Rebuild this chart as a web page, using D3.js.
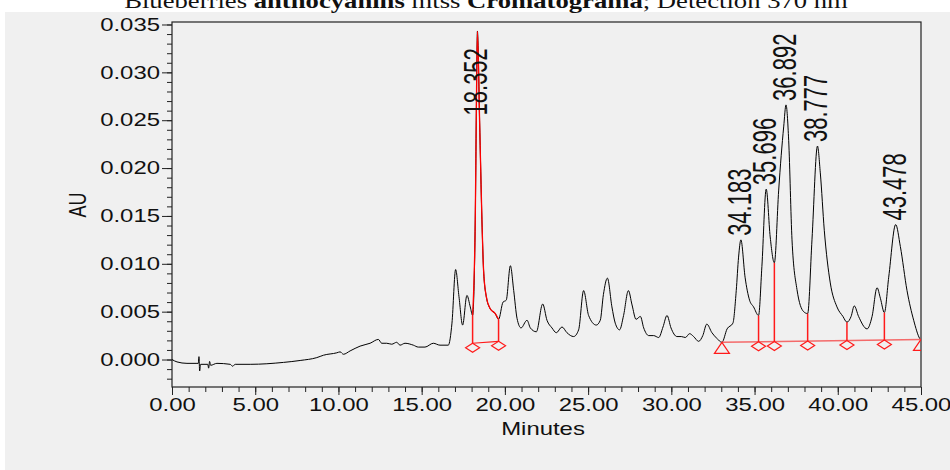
<!DOCTYPE html>
<html>
<head>
<meta charset="utf-8">
<script src="https://cdn.jsdelivr.net/npm/d3@7.9.0/dist/d3.min.js"></script>
<style>
  body { margin: 0; background: #fff; }
  svg { display: block; }
  text { font-family: "Liberation Sans", Arial, sans-serif; fill: #111; }
</style>
</head>
<body>
<svg id="chart" width="950" height="470"></svg>
<script>
// trace (minutes, AU)
const traceTime = [0.00, 0.30, 0.90, 1.50, 1.58, 1.62, 1.66, 1.72, 2.15, 2.20, 2.26, 2.32, 2.70, 3.50, 3.64, 3.80,
  4.70, 6.70, 7.70, 8.70, 9.10, 9.90, 10.10, 10.30, 10.70, 11.30, 11.90, 12.40, 12.60, 12.90, 13.20, 13.50, 13.70,
  14.00, 14.50, 14.80, 15.20, 15.70, 16.10, 16.60, 16.82, 17.04, 17.24, 17.46, 17.72, 17.92, 18.06, 18.22, 18.28,
  18.35, 18.48, 18.62, 18.72, 18.88, 19.12, 19.42, 19.62, 19.89, 20.08, 20.33, 20.53, 20.73, 20.97, 21.33, 21.53,
  21.89, 22.27, 22.53, 22.83, 23.09, 23.43, 23.73, 24.13, 24.43, 24.73, 25.03, 25.49, 25.73, 25.92, 26.16, 26.43,
  26.63, 26.89, 27.13, 27.42, 27.64, 27.88, 28.14, 28.34, 28.64, 28.94, 29.24, 29.50, 29.74, 29.98, 30.34, 30.60,
  30.84, 31.10, 31.34, 31.64, 31.89, 32.13, 32.44, 32.74, 33.04, 33.35, 33.70, 33.90, 34.04, 34.18, 34.43, 34.70,
  34.94, 35.24, 35.44, 35.70, 35.94, 36.19, 36.45, 36.75, 36.89, 37.05, 37.25, 37.55, 37.95, 38.19, 38.45, 38.78,
  38.95, 39.19, 39.55, 39.95, 40.31, 40.55, 40.80, 40.99, 41.25, 41.76, 42.06, 42.36, 42.56, 42.80, 43.06, 43.48,
  43.76, 44.16, 44.56, 44.92, 45.00];
const traceAU = [0.0000, -0.00025, -0.0004, -0.0004, -0.0004, 0.0003, -0.0012, -0.0005, -0.0005, -0.0009, -0.0002,
  -0.0006, -0.0004, -0.0005, -0.0007, -0.0005, -0.0005, -0.0003, -0.0001, 0.0002, 0.00045, 0.0007, 0.0008, 0.00055,
  0.0009, 0.0014, 0.0017, 0.0021, 0.0017, 0.0017, 0.0016, 0.0018, 0.0015, 0.0017, 0.0015, 0.0013, 0.0013, 0.0017,
  0.0015, 0.0015, 0.0038, 0.0094, 0.0066, 0.0036, 0.0067, 0.0055, 0.0046, 0.0146, 0.0250, 0.0343, 0.0250, 0.0146,
  0.0093, 0.0066, 0.0053, 0.0048, 0.0042, 0.0060, 0.0062, 0.0098, 0.0072, 0.0043, 0.0033, 0.0041, 0.0033, 0.0029,
  0.0058, 0.0041, 0.0033, 0.0028, 0.0034, 0.0028, 0.0024, 0.0031, 0.0072, 0.0046, 0.0036, 0.0041, 0.0068, 0.0085,
  0.0055, 0.0038, 0.0031, 0.0046, 0.0072, 0.0057, 0.0042, 0.0045, 0.0033, 0.0025, 0.0025, 0.0023, 0.0034, 0.0046,
  0.0033, 0.0024, 0.0024, 0.0023, 0.0027, 0.0024, 0.0019, 0.0025, 0.0037, 0.0028, 0.0022, 0.0018, 0.0032, 0.0038,
  0.0072, 0.0107, 0.0125, 0.0086, 0.0062, 0.0055, 0.0046, 0.0097, 0.0178, 0.0128, 0.0101, 0.0177, 0.0243, 0.0266,
  0.0229, 0.0125, 0.0073, 0.0050, 0.0048, 0.0125, 0.0223, 0.0195, 0.0135, 0.0080, 0.0055, 0.0045, 0.0039, 0.0045,
  0.0056, 0.0045, 0.0032, 0.0045, 0.0075, 0.0064, 0.0049, 0.0086, 0.0141, 0.0118, 0.0072, 0.0041, 0.0022, 0.0020];

// labelled peaks
const peakTimes = [18.352, 34.183, 35.696, 36.892, 38.777, 43.478];
const peakLabels = ["18.352", "34.183", "35.696", "36.892", "38.777", "43.478"];
const peakAU = [0.0343, 0.0125, 0.0178, 0.0266, 0.0223, 0.0141];

// integration: first peak on its own baseline, then one shared baseline
const firstStart = [18.06, 0.0017];
const firstEnd = [19.62, 0.0019];
const groupStart = [33.04, 0.0018];
const groupEnd = [45.00, 0.0021];
const dropTimes = [35.24, 36.19, 38.19, 40.55, 42.80];

const xTicks = [0, 5, 10, 15, 20, 25, 30, 35, 40, 45];
const yTicks = [0, 0.005, 0.010, 0.015, 0.020, 0.025, 0.030, 0.035];

const W = 950, H = 470;
const margin = { left: 172, right: 29, top: 22, bottom: 83 };
const TX = 1.33; // the picture is stretched sideways, text too

const svg = d3.select('#chart');

svg.append('rect').attr('x', 5).attr('y', 12).attr('width', W - 5).attr('height', H - 12).attr('fill', '#f0f0f0');

const x = d3.scaleLinear().domain([0, 45]).range([margin.left, W - margin.right]);
const y = d3.scaleLinear().domain([-0.00287, 0.03526]).range([H - margin.bottom, margin.top]);

// title, cut off by the top of the page
const title = svg.append('text')
  .attr('text-anchor', 'middle')
  .style('font-family', '"Liberation Serif", "Times New Roman", serif')
  .style('font-size', '22px');
title.append('tspan').text('Blueberries ');
title.append('tspan').style('font-weight', 'bold').text('anthocyanins');
title.append('tspan').text(' mtss ');
title.append('tspan').style('font-weight', 'bold').text('Cromatograma');
title.append('tspan').text('; Detection 370 nm');
const tLen = title.node().getComputedTextLength();
title.attr('transform', `translate(486,8) scale(${724 / tLen},1)`);

svg.append('defs').append('clipPath').attr('id', 'plot')
  .append('rect')
  .attr('x', x(0)).attr('y', y.range()[1])
  .attr('width', x(45) - x(0)).attr('height', y.range()[0] - y.range()[1]);

// axes
const yMinor = d3.range(-2, 36).map(d => d / 1000);
const xMinor = d3.range(0, 46);

svg.append('g').attr('transform', `translate(${x(0)},0)`)
  .call(d3.axisLeft(y).tickValues(yMinor).tickSize(5).tickSizeOuter(0).tickFormat(''))
  .call(g => g.select('.domain').remove());
const yAxis = svg.append('g').attr('transform', `translate(${x(0)},0)`)
  .call(d3.axisLeft(y).tickValues(yTicks).tickSize(10).tickSizeOuter(0).tickFormat(d3.format('.3f')))
  .call(g => g.select('.domain').remove());
yAxis.selectAll('text')
  .attr('x', null)
  .attr('transform', `translate(-12,0) scale(${TX},1)`)
  .style('font-size', '18px');

svg.append('g').attr('transform', `translate(0,${y.range()[0]})`)
  .call(d3.axisBottom(x).tickValues(xMinor).tickSize(5).tickSizeOuter(0).tickFormat(''))
  .call(g => g.select('.domain').remove());
const xAxis = svg.append('g').attr('transform', `translate(0,${y.range()[0]})`)
  .call(d3.axisBottom(x).tickValues(xTicks).tickSize(8).tickSizeOuter(0).tickFormat(d3.format('.2f')))
  .call(g => g.select('.domain').remove());
xAxis.selectAll('text')
  .attr('y', 11)
  .attr('transform', `scale(${TX},1)`)
  .style('font-size', '18px');
svg.selectAll('.tick line').attr('stroke', '#222');

// frame
svg.append('rect')
  .attr('x', x(0)).attr('y', y.range()[1])
  .attr('width', x(45) - x(0)).attr('height', y.range()[0] - y.range()[1])
  .attr('fill', 'none').attr('stroke', '#222').attr('stroke-width', 1.2);

svg.append('text')
  .attr('text-anchor', 'middle')
  .attr('transform', `translate(543,435) scale(${TX},1)`)
  .style('font-size', '18px')
  .text('Minutes');

svg.append('text')
  .attr('text-anchor', 'middle')
  .attr('transform', `translate(86,205) scale(${TX},1) rotate(-90)`)
  .style('font-size', '18px')
  .text('AU');

// trace
const trace = traceTime.map((t, i) => [t, traceAU[i]]);
const line = d3.line().x(d => x(d[0])).y(d => y(d[1])).curve(d3.curveMonotoneX);

function auAt(t) {
  const i = d3.bisectLeft(traceTime, t);
  if (traceTime[i] === t) return traceAU[i];
  const k = (t - traceTime[i - 1]) / (traceTime[i] - traceTime[i - 1]);
  return traceAU[i - 1] + k * (traceAU[i] - traceAU[i - 1]);
}
function baseAt(a, b, t) {
  return a[1] + (t - a[0]) / (b[0] - a[0]) * (b[1] - a[1]);
}

const plot = svg.append('g').attr('clip-path', 'url(#plot)');

plot.append('path').datum(trace)
  .attr('d', line)
  .attr('fill', 'none').attr('stroke', '#000').attr('stroke-width', 1);

// red integrated first peak
plot.append('path').datum(trace.filter(d => d[0] >= firstStart[0] && d[0] <= firstEnd[0]))
  .attr('d', line)
  .attr('fill', 'none').attr('stroke', '#ff0000').attr('stroke-width', 1.3);

const red = '#ff1a1a';
const redLight = '#f46a6a';

plot.append('line')
  .attr('x1', x(firstStart[0])).attr('y1', y(firstStart[1]))
  .attr('x2', x(firstEnd[0])).attr('y2', y(firstEnd[1]))
  .attr('stroke', red).attr('stroke-width', 1.2);
plot.append('line')
  .attr('x1', x(groupStart[0])).attr('y1', y(groupStart[1]))
  .attr('x2', x(groupEnd[0])).attr('y2', y(groupEnd[1]))
  .attr('stroke', redLight).attr('stroke-width', 1.5);

const drops = [firstStart[0], firstEnd[0]].map(t => [t, baseAt(firstStart, firstEnd, t)])
  .concat(dropTimes.map(t => [t, baseAt(groupStart, groupEnd, t)]));

plot.selectAll('line.drop').data(drops).join('line')
  .attr('class', 'drop')
  .attr('x1', d => x(d[0])).attr('x2', d => x(d[0]))
  .attr('y1', d => y(d[1])).attr('y2', d => y(auAt(d[0])))
  .attr('stroke', red).attr('stroke-width', 1.5);

plot.selectAll('path.diamond').data(drops).join('path')
  .attr('class', 'diamond')
  .attr('d', d => {
    const cx = x(d[0]), cy = y(d[1]);
    return `M${cx},${cy} L${cx + 7},${cy + 4.5} L${cx},${cy + 9} L${cx - 7},${cy + 4.5} Z`;
  })
  .attr('fill', 'none').attr('stroke', red).attr('stroke-width', 1.2);

plot.selectAll('path.tri').data([groupStart, groupEnd]).join('path')
  .attr('class', 'tri')
  .attr('d', d => {
    const cx = x(d[0]), cy = y(d[1]);
    return `M${cx},${cy} L${cx + 7.5},${cy + 11} L${cx - 7.5},${cy + 11} Z`;
  })
  .attr('fill', 'none').attr('stroke', red).attr('stroke-width', 1.2);

// peak labels, reading upward, with their base just above the apex
const labelTop = y(0.0255);
svg.selectAll('text.peak').data(peakTimes).join('text')
  .attr('class', 'peak')
  .style('font-size', '22px')
  .attr('transform', (t, i) => {
    let start = y(peakAU[i]) - 4;
    if (start - 68 < margin.top + 4) start = labelTop;
    return `translate(${x(t) + 10},${start}) scale(1.5,1) rotate(-90)`;
  })
  .text((t, i) => peakLabels[i]);
</script>
</body>
</html>
